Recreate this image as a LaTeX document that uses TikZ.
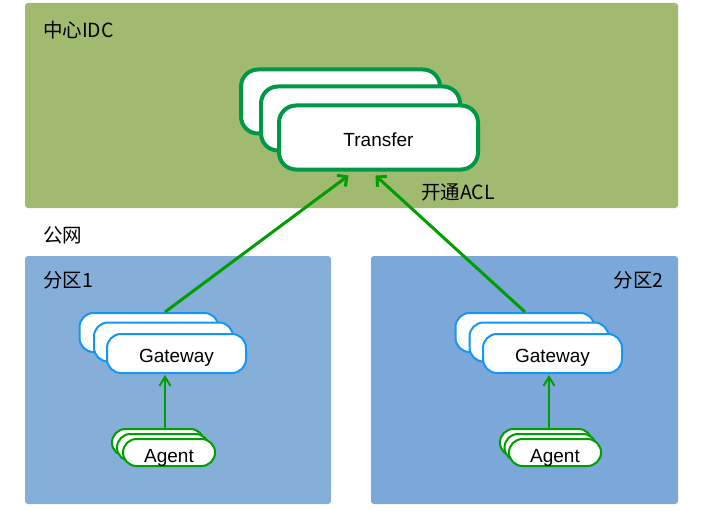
\documentclass[tikz,border=0pt]{standalone}
\usepackage{fontspec}
\setmainfont{Liberation Sans}
\newfontfamily\cjk{Noto Sans CJK SC}
\usetikzlibrary{arrows.meta,calc}
\definecolor{idcgreen}{RGB}{160,187,111}
\definecolor{zoneA}{RGB}{133,175,217}
\definecolor{zoneB}{RGB}{123,168,217}
\definecolor{tfgreen}{RGB}{0,152,72}
\definecolor{argreen}{RGB}{0,158,0}
\definecolor{gwblue}{RGB}{20,150,245}
\tikzset{
  tfbox/.style={draw=tfgreen,line width=4pt,fill=white,rounded corners=17pt,minimum width=199pt,minimum height=64pt,inner sep=0pt,text height=18.5pt,text depth=0pt,font=\fontsize{19}{21}\selectfont},
  gwbox/.style={draw=gwblue,line width=2pt,fill=white,rounded corners=14pt,minimum width=139pt,minimum height=39pt,inner sep=0pt,text height=17.5pt,text depth=0pt,font=\fontsize{19}{21}\selectfont},
  agbox/.style={draw=argreen,line width=2pt,fill=white,rounded corners=13.5pt,minimum width=92pt,minimum height=27pt,inner sep=0pt,text height=19pt,text depth=0pt,font=\fontsize{19}{21}\selectfont},
  bigarr/.style={draw=argreen,line width=3pt,-{Straight Barb[length=7pt,width=14pt,line width=3pt]}},
  smallarr/.style={draw=argreen,line width=2pt,-{Straight Barb[length=9pt,width=11pt,line width=2pt]}},
  lbl/.style={font=\cjk\fontsize{19.5}{21}\selectfont,inner sep=0pt}
}
\begin{document}
\begin{tikzpicture}[x=1pt,y=-1pt]
\useasboundingbox (0,0) rectangle (705,511);
% panels
\fill[idcgreen,rounded corners=3pt] (25,3) rectangle (678,208);
\fill[zoneA,rounded corners=3pt] (25,256) rectangle (331,504);
\fill[zoneB,rounded corners=3pt] (371,256) rectangle (678,504);
% labels
\node[lbl,anchor=west] (lidc) at (43,30) {中心IDC};
\node[lbl,anchor=west] (lnet) at (43,235) {公网};
\node[lbl,anchor=west] (lz1) at (43,280) {分区1};
\node[lbl,anchor=east] (lz2) at (664,280) {分区2};
\node[lbl,anchor=west] (lacl) at (421,192) {开通ACL};
% transfer stack
\node[tfbox] (tfc) at (340.5,101.5) {};
\node[tfbox] (tfb) at (360.5,118.5) {};
\node[tfbox] (tfa) at (378.5,137.5) {Transfer};
% gateway zone 1
\node[gwbox] (gw1c) at (149,332.5) {};
\node[gwbox] (gw1b) at (163.5,342) {};
\node[gwbox] (gw1a) at (176.5,353.5) {Gateway};
% gateway zone 2
\node[gwbox] (gw2c) at (525,332.5) {};
\node[gwbox] (gw2b) at (539,342) {};
\node[gwbox] (gw2a) at (552.5,353.5) {Gateway};
% agents zone 1
\node[agbox] (ag1c) at (158,442.5) {};
\node[agbox] (ag1b) at (163,447.5) {};
\node[agbox] (ag1a) at (169,452.5) {Agent};
% agents zone 2
\node[agbox] (ag2c) at (546,442.5) {};
\node[agbox] (ag2b) at (550.5,447.5) {};
\node[agbox] (ag2a) at (555,452.5) {Agent};
% arrows
\draw[bigarr] ([xshift=16pt]gw1c.north) -- ([xshift=-30pt,yshift=-4pt]tfa.south);
\draw[bigarr] (gw2c.north) -- ([xshift=-3pt,yshift=-4pt]tfa.south);
\draw[smallarr] ([xshift=7pt]ag1c.north) -- ([xshift=7pt,yshift=-1pt]ag1c.north |- gw1a.south);
\draw[smallarr] ([xshift=3pt]ag2c.north) -- ([xshift=3pt,yshift=-1pt]ag2c.north |- gw2a.south);
\end{tikzpicture}
\end{document}
